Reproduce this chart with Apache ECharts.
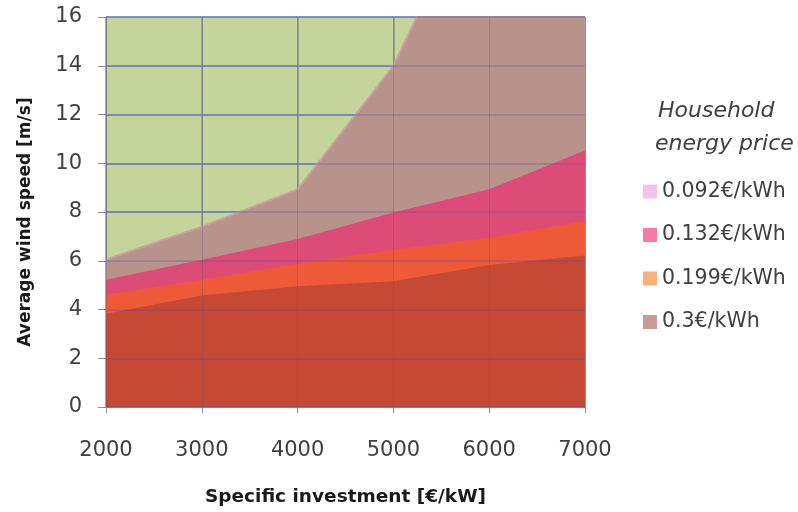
<!DOCTYPE html>
<html>
<head>
<meta charset="utf-8">
<script src="https://cdn.jsdelivr.net/npm/echarts@6/dist/echarts.min.js"></script>
<style>
  html, body { margin: 0; padding: 0; background: #ffffff; }
  #chart { width: 798px; height: 512px; }
</style>
</head>
<body>
<div id="chart"></div>
<script>
// Specific investment (€/kW) on the x axis
const investment = [2000, 3000, 4000, 5000, 6000, 7000];

// Boundary wind speed (m/s) for each household energy price
const price0300 = [6.05, 7.4, 8.93, 14.0, 22.2, 30.0];
const price0132 = [5.22, 6.04, 6.89, 7.98, 8.93, 10.52];
const price0199 = [4.61, 5.22, 5.88, 6.45, 6.95, 7.63];
const price0092 = [3.83, 4.57, 4.95, 5.16, 5.83, 6.22];

const legendNames = ['0.092€/kWh', '0.132€/kWh', '0.199€/kWh', '0.3€/kWh'];
const yTicks = { min: 0, max: 16, step: 2 };
const xTicks = { min: 2000, max: 7000, step: 1000 };

const FONT = 'DejaVu Sans';

function pairs(values) {
  return investment.map((x, i) => [x, values[i]]);
}

function areaSeries(name, values, legendColor, fillColor, z, edge) {
  return {
    name: name,
    type: 'line',
    xAxisIndex: 0,
    yAxisIndex: 0,
    data: pairs(values),
    showSymbol: false,
    symbol: 'none',
    clip: true,
    z: z,
    itemStyle: { color: legendColor },
    lineStyle: edge ? { width: 2, color: edge } : { width: 0 },
    areaStyle: { color: fillColor, opacity: 1 },
    emphasis: { disabled: true },
    silent: true
  };
}

// A bare copy of an axis that only draws faint grid lines above the areas
function overlayAxis(base, lineColor, width) {
  return {
    type: 'value',
    min: base.min, max: base.max, interval: base.step,
    z: 6,
    axisLine: { show: false },
    axisTick: { show: false },
    axisLabel: { show: false },
    splitLine: { show: true, lineStyle: { color: lineColor, width: width } }
  };
}

const chart = echarts.init(document.getElementById('chart'), null, { renderer: 'canvas' });

chart.setOption({
  animation: false,
  backgroundColor: '#ffffff',
  grid: {
    left: 106, right: 213, top: 17, bottom: 102,
    show: true,
    backgroundColor: '#c4d49b',
    borderWidth: 0
  },
  legend: {
    data: legendNames,
    orient: 'vertical',
    left: 638,
    top: 176,
    itemWidth: 14,
    itemHeight: 14,
    itemGap: 22.5,
    icon: 'rect',
    selectedMode: false,
    textStyle: { fontFamily: FONT, fontSize: 20.5, color: '#404040' }
  },
  graphic: [
    {
      type: 'text', left: 658, top: 100,
      style: { text: 'Household', fontFamily: FONT, fontStyle: 'italic', fontSize: 22, fill: '#404040' }
    },
    {
      type: 'text', left: 655, top: 133,
      style: { text: 'energy price', fontFamily: FONT, fontStyle: 'italic', fontSize: 22, fill: '#404040' }
    }
  ],
  xAxis: [
    {
      type: 'value',
      min: xTicks.min, max: xTicks.max, interval: xTicks.step,
      position: 'bottom',
      name: 'Specific investment [€/kW]',
      nameLocation: 'middle',
      nameGap: 81,
      nameTextStyle: { fontFamily: FONT, fontWeight: 'bold', fontSize: 18.5, color: '#1a1a1a' },
      axisLine: { show: true, lineStyle: { color: '#8c8c8c', width: 1 } },
      axisTick: { show: true, length: 6, lineStyle: { color: '#8c8c8c' } },
      axisLabel: {
        margin: 33, fontFamily: FONT, fontSize: 21, color: '#404040',
        formatter: (v) => String(v)
      },
      splitLine: { show: true, lineStyle: { color: '#8c9088', width: 1.5 } }
    },
    Object.assign(overlayAxis(xTicks, 'rgba(100,80,130,0.3)', 1), { position: 'top' })
  ],
  yAxis: [
    {
      type: 'value',
      min: yTicks.min, max: yTicks.max, interval: yTicks.step,
      position: 'left',
      name: 'Average wind speed [m/s]',
      nameLocation: 'middle',
      nameGap: 72,
      nameRotate: 90,
      nameTextStyle: {
        fontFamily: FONT, fontWeight: 'bold', fontSize: 17, color: '#1a1a1a',
        padding: [0, 20, 0, 0]
      },
      axisLine: { show: true, lineStyle: { color: '#8c8c8c', width: 1 } },
      axisTick: { show: true, length: 8, lineStyle: { color: '#8c8c8c' } },
      axisLabel: { margin: 24, fontFamily: FONT, fontSize: 21, color: '#404040' },
      splitLine: { show: true, lineStyle: { color: '#6f93c6', width: 1.5 } }
    },
    Object.assign(overlayAxis(yTicks, 'rgba(90,70,180,0.35)', 1.5), { position: 'right' })
  ],
  series: [
    areaSeries('0.3€/kWh', price0300, '#c89a98', '#b8938c', 2, '#c9a39c'),
    areaSeries('0.132€/kWh', price0132, '#f878a8', '#dd4c77', 3),
    areaSeries('0.199€/kWh', price0199, '#fcb07c', '#ee5a38', 4),
    areaSeries('0.092€/kWh', price0092, '#f2c4e6', '#c54934', 5)
  ]
});
</script>
</body>
</html>
